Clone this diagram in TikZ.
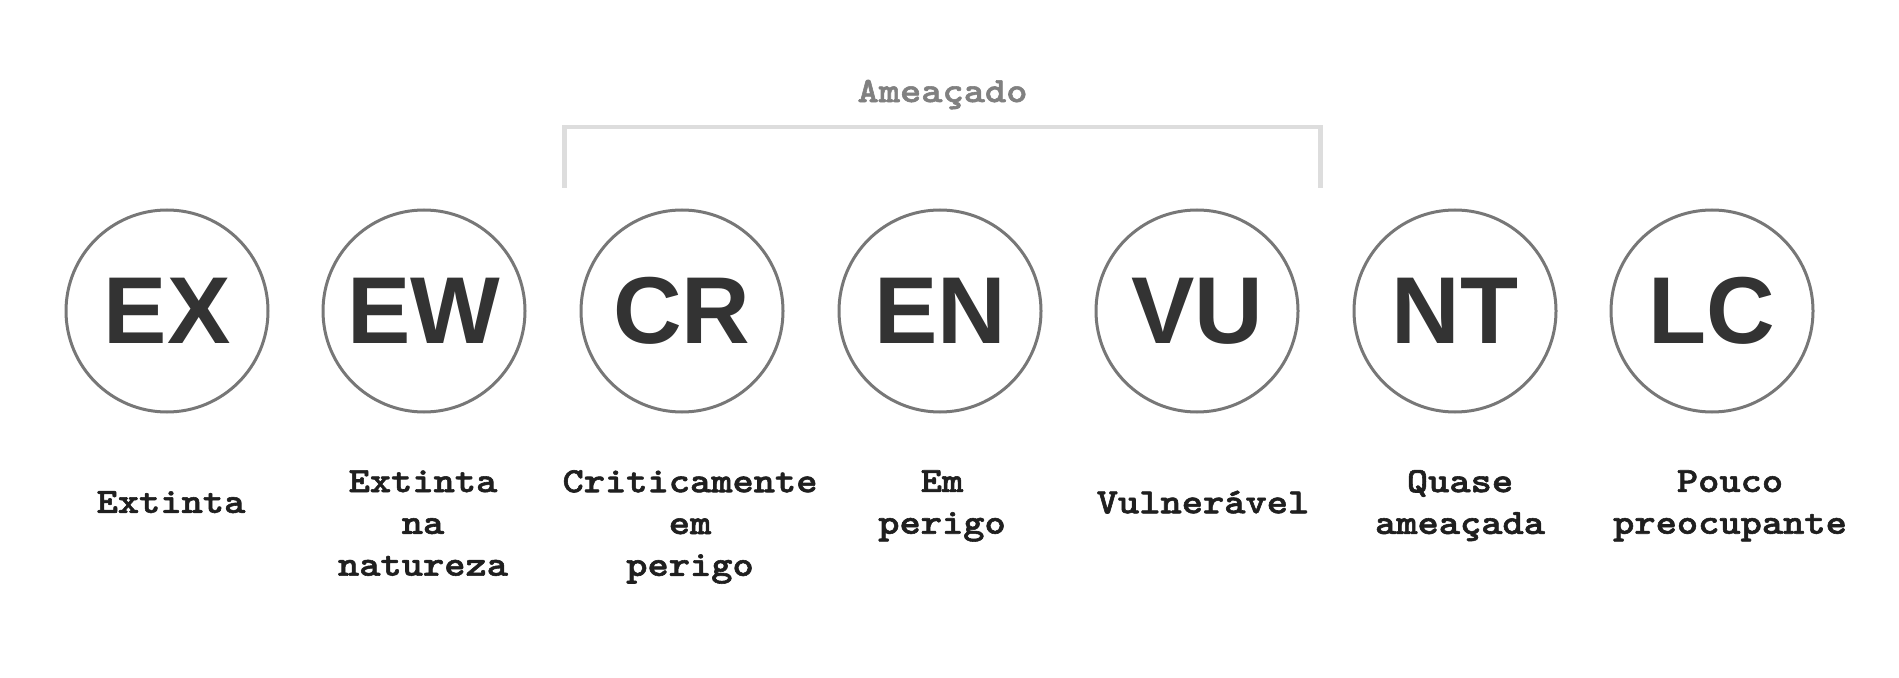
\documentclass[tikz,border=0pt]{standalone}
\usepackage{fontspec}
\setmainfont{Liberation Sans}
\setmonofont{lmmonolt10}[Extension=.otf, UprightFont=*-regular,
  BoldFont=*-bold, FakeStretch=1.14, BoldFeatures={FakeBold=1.6}]
\usepackage{tikz}
\usetikzlibrary{calc, positioning}

\definecolor{ringgray}{HTML}{777777}
\definecolor{codegray}{HTML}{333333}
\definecolor{bracketgray}{HTML}{DDDDDD}
\definecolor{groupgray}{HTML}{808080}

\begin{document}
\begin{tikzpicture}[x=0.5pt, y=-0.5pt,
  status/.style={circle, draw=ringgray, line width=1.5pt, minimum size=101pt,
    inner sep=0pt, text=codegray, font=\fontsize{47.5pt}{50pt}\selectfont\bfseries},
  tag/.style={align=center, text=black!88, text depth=0pt,
    font=\fontsize{17.75pt}{20.9pt}\selectfont\ttfamily\bfseries},
  group/.style={text=groupgray, text depth=0pt,
    font=\fontsize{17.75pt}{20.9pt}\selectfont\ttfamily\bfseries},
  bracket/.style={draw=bracketgray, line width=2.25pt}]
  \useasboundingbox (0,0) rectangle (1899,678);
  % status circles
  \node [status] (ex) at (167,311) {EX};
  \node [status] (ew) at (424,311) {EW};
  \node [status] (cr) at (682,311) {CR};
  \node [status] (en) at (940,311) {EN};
  \node [status] (vu) at (1197,311) {VU};
  \node [status] (nt) at (1455,311) {NT};
  \node [status] (lc) at (1712,311) {LC};
  % names below
  \node [tag] (exname) at ($(ex)+(4,191)$) {Extinta};
  \node [tag] (ewname) at ($(ew)+(-1,212)$) {Extinta\\na\\natureza};
  \node [tag] (crname) at ($(cr)+(8,212)$) {Criticamente\\em\\perigo};
  \node [tag] (enname) at ($(en)+(2,191)$) {Em\\perigo};
  \node [tag] (vuname) at ($(vu)+(6,191)$) {Vulnerável};
  \node [tag] (ntname) at ($(nt)+(5,191)$) {Quase\\ameaçada};
  \node [tag] (lcname) at ($(lc)+(18,191)$) {Pouco\\preocupante};
  % threatened group
  \coordinate (brl) at ($(cr.west)+(-15,-123)$);
  \coordinate (brr) at ($(vu.east)+(21,-123)$);
  \draw [bracket] (brl) -- ++(0,-61) -| (brr);
  \node [group] (threat) at ($(brl)!0.5!(brr)+(0,-97)$) {Ameaçado};
\end{tikzpicture}
\end{document}
